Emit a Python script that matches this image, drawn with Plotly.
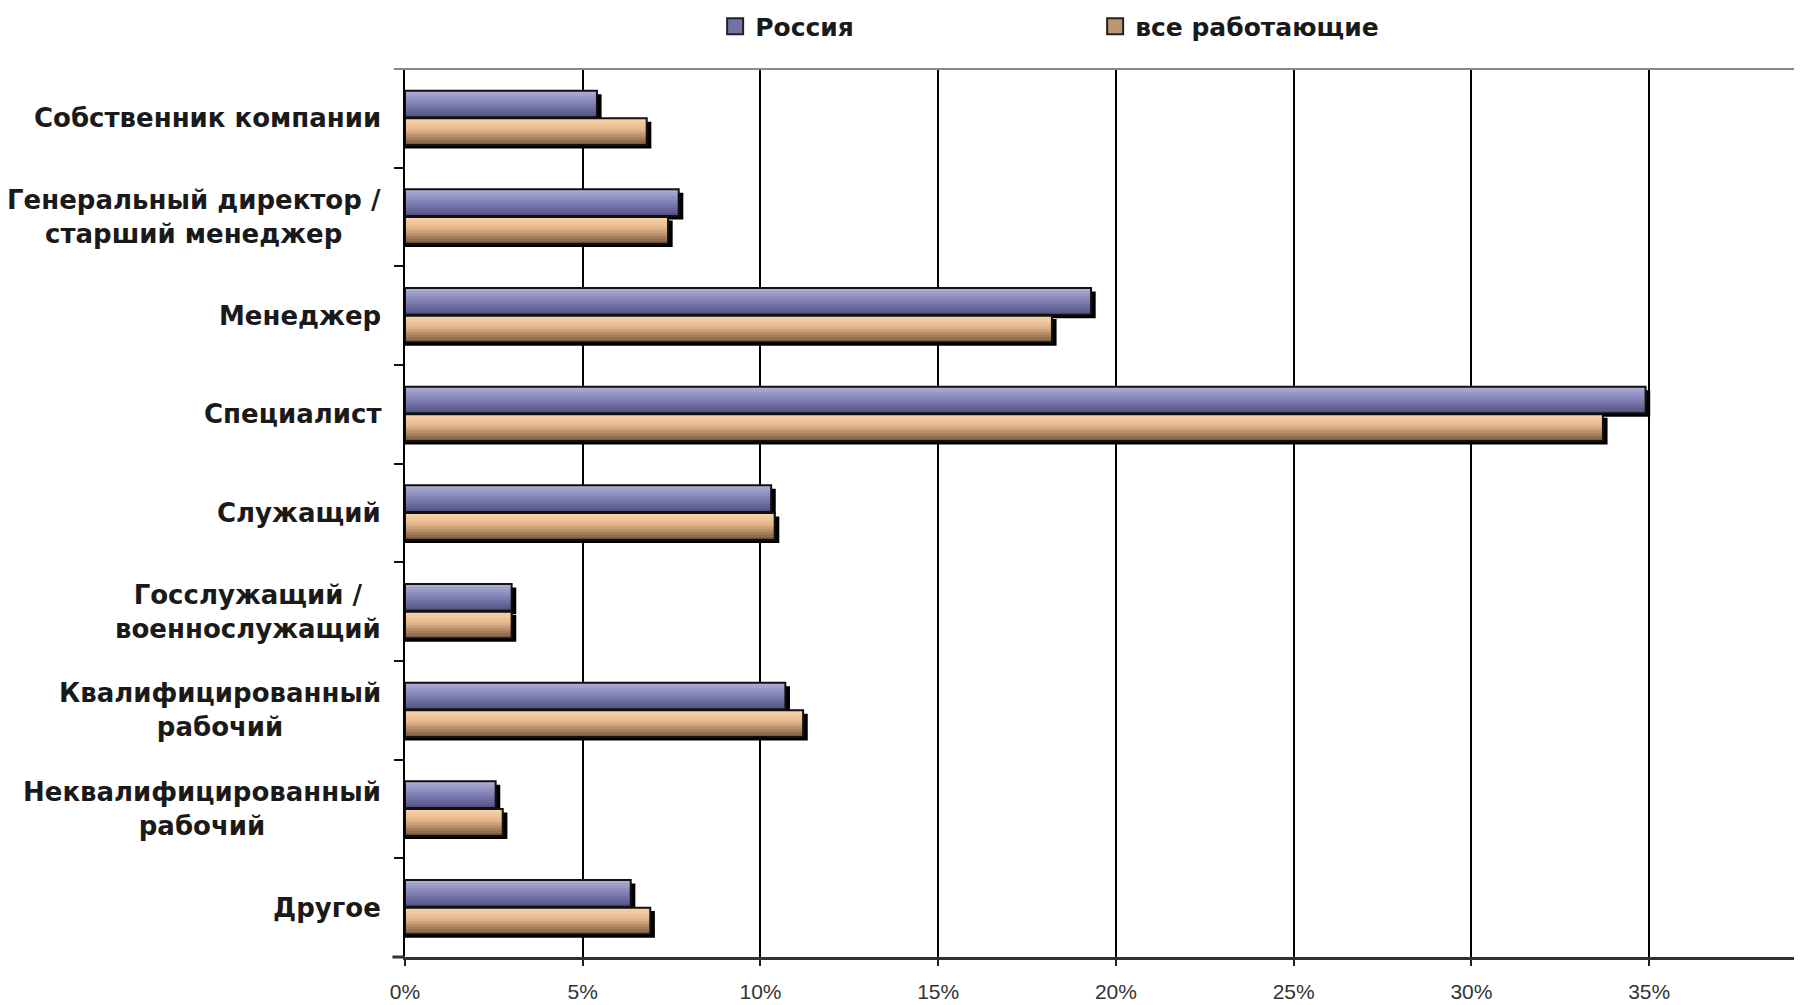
import plotly.graph_objects as go

categories = [
    "Собственник компании",
    "Генеральный директор /<br>старший менеджер",
    "Менеджер",
    "Специалист",
    "Служащий",
    "Госслужащий /<br>военнослужащий",
    "Квалифицированный<br>рабочий",
    "Неквалифицированный<br>рабочий",
    "Другое",
]
russia = [5.4, 7.7, 19.3, 34.9, 10.3, 3.0, 10.7, 2.55, 6.35]
all_workers = [6.8, 7.4, 18.2, 33.7, 10.4, 3.0, 11.2, 2.75, 6.9]
series_names = ["Россия", "все работающие"]
x_ticks = [0, 5, 10, 15, 20, 25, 30, 35]

FONT = "DejaVu Sans"
N = 10
BAR_W = 0.27


def lerp(c1, c2, t):
    return "rgb(%d,%d,%d)" % tuple(round(a + (b - a) * t) for a, b in zip(c1, c2))


series_style = [
    dict(top=(172, 172, 212), mid=(136, 136, 188), bot=(84, 84, 134), off=-0.28),
    dict(top=(246, 210, 170), mid=(232, 184, 140), bot=(128, 96, 66), off=0.0),
]
values = [russia, all_workers]

fig = go.Figure()

# shadows
for vals, st in zip(values, series_style):
    fig.add_trace(go.Bar(
        y=categories, x=[v + 0.13 for v in vals], orientation="h",
        offset=st["off"] + 0.035, width=BAR_W,
        marker=dict(color="black", line=dict(width=0)),
        showlegend=False, hoverinfo="skip"))

# gradient stripes
for vals, st in zip(values, series_style):
    for k in range(N):
        t = k / (N - 1)
        if t < 0.4:
            col = lerp(st["top"], st["mid"], t / 0.4)
        else:
            col = lerp(st["mid"], st["bot"], (t - 0.4) / 0.6)
        fig.add_trace(go.Bar(
            y=categories, x=vals, orientation="h",
            offset=st["off"] + k * BAR_W / N, width=BAR_W / N * (1.4 if k < N - 1 else 1.0),
            marker=dict(color=col, line=dict(width=0)),
            showlegend=False, hoverinfo="skip"))

# outlines
for vals, st, name in zip(values, series_style, series_names):
    fig.add_trace(go.Bar(
        y=categories, x=vals, orientation="h",
        offset=st["off"], width=BAR_W,
        marker=dict(color="rgba(0,0,0,0)", line=dict(color="#111111", width=2)),
        showlegend=False, name=name))

# legend entries
for st, name in zip(series_style, series_names):
    fig.add_trace(go.Scatter(
        x=[None], y=[None], mode="markers", name=name,
        marker=dict(symbol="square", size=16, color=lerp(st["mid"], st["bot"], 0.4),
                    line=dict(color="#222222", width=2))))

annotations = []
for c in categories:
    annotations.append(dict(
        x=-0.016, xref="paper", y=c, yref="y", text=c, showarrow=False,
        xanchor="right", yanchor="middle", align="center",
        font=dict(family=FONT, size=26, color="#1a1a1a", weight="bold")))

fig.update_layout(
    width=1794, height=997, autosize=False,
    margin=dict(l=397, r=0, t=61, b=48, autoexpand=False),
    paper_bgcolor="white", plot_bgcolor="white",
    barmode="overlay",
    showlegend=True,
    legend=dict(orientation="h", x=0.222, y=1.048, yanchor="middle", xanchor="left",
                yref="paper", entrywidth=335,
                font=dict(family=FONT, size=25, color="#1a1a1a", weight="bold"),
                bgcolor="rgba(0,0,0,0)"),
    annotations=annotations,
    shapes=[
        dict(type="line", xref="paper", yref="paper", x0=-0.008, x1=1, y0=1, y1=1,
             line=dict(color="#8a8a8a", width=2)),
        dict(type="line", xref="paper", yref="paper", x0=-0.009, x1=0, y0=0, y1=0,
             line=dict(color="#333333", width=3)),
    ],
    xaxis=dict(range=[0, 39.3], tickvals=x_ticks, ticktext=[f"{v}%" for v in x_ticks],
               showgrid=True, gridcolor="#000000", gridwidth=2,
               showline=True, linecolor="#333333", linewidth=3,
               ticks="outside", ticklen=6, tickwidth=2, tickcolor="#222",
               ticklabelstandoff=8, automargin=False,
               tickfont=dict(family="Liberation Sans", size=21, color="#333333"),
               zeroline=False, fixedrange=True),
    yaxis=dict(type="category", categoryorder="array", categoryarray=categories,
               range=[8.5, -0.5], showticklabels=False, automargin=False,
               tickson="boundaries", ticks="outside", ticklen=9, tickwidth=2, tickcolor="#111",
               showline=True, linecolor="#000000", linewidth=2, showgrid=False,
               zeroline=False, fixedrange=True),
)

fig.write_html("out.html")
